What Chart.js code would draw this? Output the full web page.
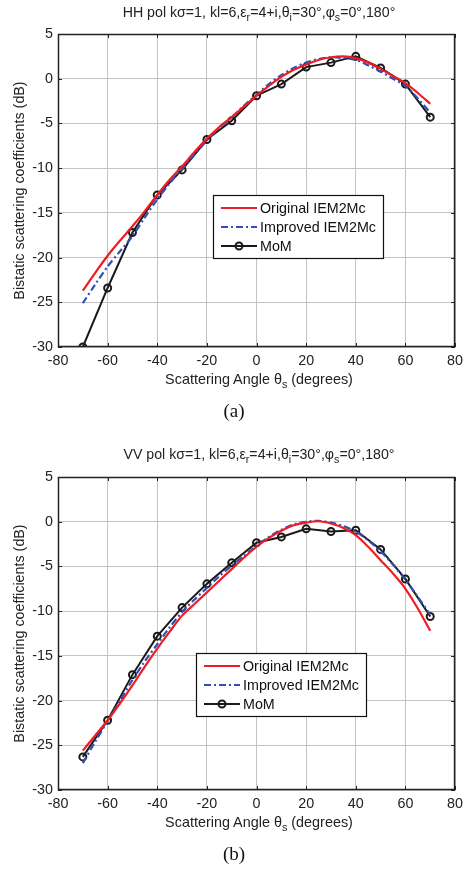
<!DOCTYPE html>
<html>
<head>
<meta charset="utf-8">
<script src="https://cdn.jsdelivr.net/npm/chart.js@4.4.1/dist/chart.umd.min.js"></script>
<style>
  body { margin: 0; background: #fff; width: 468px; height: 869px; position: relative; overflow: hidden; }
  .wrap { position: absolute; left: 0; width: 468px; height: 400px; }
  .ttl { position: absolute; left: 0; width: 468px; text-align: center; font-family: "Liberation Sans", Arial, sans-serif; color: #222; white-space: nowrap; line-height: 1; }
  .ttl sub { font-size: 75%; vertical-align: -4px; line-height: 0; }
  .cap { position: absolute; left: 0; width: 518px; text-align: center; font-family: "Liberation Serif", "Times New Roman", serif; font-size: 19px; color: #111; line-height: 1; }
</style>
</head>
<body>

<div class="wrap" id="wrapA" style="top:0px"><canvas id="chartA" width="468" height="400"></canvas></div>
<div class="wrap" id="wrapB" style="top:443px"><canvas id="chartB" width="468" height="400"></canvas></div>

<div class="ttl" style="top:5px;font-size:14.2px;left:25px">HH pol kσ=1, kl=6,ε<sub>r</sub>=4+i,θ<sub>i</sub>=30°,φ<sub>s</sub>=0°,180°</div>
<div class="ttl" style="top:372px;font-size:14.4px;left:25px">Scattering Angle θ<sub>s</sub> (degrees)</div>
<div class="cap" style="top:401px;left:-25px">(a)</div>

<div class="ttl" style="top:447px;font-size:14.2px;left:25px">VV pol kσ=1, kl=6,ε<sub>r</sub>=4+i,θ<sub>i</sub>=30°,φ<sub>s</sub>=0°,180°</div>
<div class="ttl" style="top:815px;font-size:14.4px;left:25px">Scattering Angle θ<sub>s</sub> (degrees)</div>
<div class="cap" style="top:844px;left:-25px">(b)</div>

<script>
// ========== data ==========
const curveAngles = [-70, -65, -60, -55, -50, -45, -40, -35, -30, -25, -20, -15, -10, -5, 0,
                     5, 10, 15, 20, 25, 30, 35, 40, 45, 50, 55, 60, 65, 70];
const momAngles = [-70, -60, -50, -40, -30, -20, -10, 0, 10, 20, 30, 40, 50, 60, 70];

// (a) HH pol
const hhOriginal = [-23.7, -21.7, -19.8, -18.1, -16.5, -14.8, -13.0, -11.3, -9.8, -8.2, -6.7, -5.4, -4.3, -3.1, -1.9,
                    -0.8, 0.2, 1.0, 1.6, 2.1, 2.4, 2.5, 2.3, 1.8, 1.1, 0.3, -0.5, -1.6, -2.8];
const hhImproved = [-25.1, -23.0, -21.0, -19.3, -17.6, -15.5, -13.5, -11.7, -10.1, -8.5, -6.9, -5.5, -4.3, -3.0, -1.8,
                    -0.6, 0.4, 1.2, 1.8, 2.2, 2.4, 2.3, 2.1, 1.5, 0.8, 0.0, -0.8, -2.2, -3.8];
const hhMoM = [-30.0, -23.4, -17.2, -13.0, -10.2, -6.8, -4.7, -1.9, -0.6, 1.3, 1.8, 2.5, 1.2, -0.6, -4.3];

// (b) VV pol
const vvOriginal = [-25.6, -23.9, -22.2, -20.3, -18.3, -16.2, -14.2, -12.3, -10.5, -9.2, -7.9, -6.6, -5.3, -4.0, -2.8,
                    -1.8, -1.0, -0.4, -0.1, 0.05, -0.2, -0.7, -1.5, -2.8, -4.3, -5.8, -7.5, -9.7, -12.2];
const vvImproved = [-27.0, -24.6, -22.3, -20.0, -17.7, -15.6, -13.7, -11.8, -10.1, -8.7, -7.4, -6.1, -4.9, -3.8, -2.7,
                    -1.7, -0.9, -0.3, 0.0, 0.1, -0.1, -0.5, -1.1, -2.1, -3.3, -4.8, -6.5, -8.4, -10.4];
const vvMoM = [-26.3, -22.2, -17.1, -12.8, -9.6, -6.95, -4.6, -2.35, -1.7, -0.8, -1.1, -0.95, -3.1, -6.4, -10.6];

const seriesNames = ['Original IEM2Mc', 'Improved IEM2Mc', 'MoM'];
const xTicks = [-80, -60, -40, -20, 0, 20, 40, 60, 80];
const yTicks = [-30, -25, -20, -15, -10, -5, 0, 5];

const RED = '#f01c24';
const BLUE = '#2f4fb4';
const BLACK = '#1a1a1a';
const BLUE_DASH = [7, 3, 2, 3];
const FONT = '"Liberation Sans", Arial, sans-serif';
const FS = 14.3;

function toXY(xs, ys) {
  return xs.map((x, i) => ({ x: x, y: ys[i] }));
}

// ========== box, inward ticks and inset legend ==========
const framePlugin = {
  id: 'frame',
  afterDraw(chart, args, opts) {
    const ctx = chart.ctx;
    const a = chart.chartArea;
    const xs = chart.scales.x, ys = chart.scales.y;
    ctx.save();
    ctx.strokeStyle = '#222';
    ctx.lineWidth = 1.5;
    ctx.strokeRect(a.left + 0.5, a.top + 0.5, a.right - a.left - 1, a.bottom - a.top - 1);
    ctx.lineWidth = 1;
    ctx.beginPath();
    xTicks.forEach(v => {
      const px = Math.round(xs.getPixelForValue(v)) + 0.5;
      ctx.moveTo(px, a.bottom); ctx.lineTo(px, a.bottom - 4);
      ctx.moveTo(px, a.top); ctx.lineTo(px, a.top + 4);
    });
    yTicks.forEach(v => {
      const py = Math.round(ys.getPixelForValue(v)) + 0.5;
      ctx.moveTo(a.left, py); ctx.lineTo(a.left + 4, py);
      ctx.moveTo(a.right, py); ctx.lineTo(a.right - 4, py);
    });
    ctx.stroke();

    // legend box
    const bx = a.left + opts.dx, by = a.top + opts.dy, bw = 170, bh = 63;
    ctx.fillStyle = '#fff';
    ctx.fillRect(bx, by, bw, bh);
    ctx.strokeStyle = '#111';
    ctx.lineWidth = 1.2;
    ctx.strokeRect(bx + 0.5, by + 0.5, bw, bh);
    ctx.font = FS + 'px ' + FONT;
    ctx.textBaseline = 'middle';
    const styles = [
      { c: RED, dash: [] },
      { c: BLUE, dash: BLUE_DASH },
      { c: BLACK, dash: [], marker: true }
    ];
    styles.forEach((s, i) => {
      const ry = by + 13 + i * 19;
      ctx.beginPath();
      ctx.setLineDash(s.dash);
      ctx.strokeStyle = s.c;
      ctx.lineWidth = 2.2;
      ctx.moveTo(bx + 8, ry); ctx.lineTo(bx + 44, ry);
      ctx.stroke();
      ctx.setLineDash([]);
      if (s.marker) {
        ctx.beginPath();
        ctx.lineWidth = 2;
        ctx.arc(bx + 26, ry, 3.5, 0, Math.PI * 2);
        ctx.stroke();
      }
      ctx.fillStyle = '#111';
      ctx.fillText(seriesNames[i], bx + 47, ry + 1);
    });
    ctx.restore();
  }
};

function makeChart(id, original, improved, mom, legendPos) {
  const ctx = document.getElementById(id).getContext('2d');
  return new Chart(ctx, {
    type: 'line',
    data: {
      datasets: [{
        label: seriesNames[0],
        data: toXY(curveAngles, original),
        borderColor: RED,
        borderWidth: 2.2,
        pointRadius: 0,
        tension: 0.3
      }, {
        label: seriesNames[1],
        data: toXY(curveAngles, improved),
        borderColor: BLUE,
        borderWidth: 2.2,
        borderDash: BLUE_DASH,
        pointRadius: 0,
        tension: 0.3
      }, {
        label: seriesNames[2],
        data: toXY(momAngles, mom),
        borderColor: BLACK,
        borderWidth: 2,
        pointRadius: 3.5,
        pointBorderWidth: 2,
        pointBorderColor: BLACK,
        pointBackgroundColor: 'rgba(0,0,0,0)',
        tension: 0
      }]
    },
    options: {
      responsive: false,
      animation: false,
      layout: { padding: { left: 0, top: 34, right: 8, bottom: 0 } },
      plugins: {
        legend: { display: false },
        tooltip: { enabled: false },
        frame: legendPos
      },
      scales: {
        x: {
          type: 'linear',
          min: -80, max: 80,
          afterFit: s => { s.height = 53; },
          afterBuildTicks: s => { s.ticks = xTicks.map(v => ({ value: v })); },
          grid: { color: '#c4c4c4', lineWidth: 1, drawTicks: false },
          border: { display: false },
          ticks: { color: '#222', font: { family: FONT, size: FS }, padding: 5, maxRotation: 0 }
        },
        y: {
          min: -30, max: 5,
          afterFit: s => { s.width = 58; },
          afterBuildTicks: s => { s.ticks = yTicks.map(v => ({ value: v })); },
          grid: { color: '#c4c4c4', lineWidth: 1, drawTicks: false },
          border: { display: false },
          ticks: { color: '#222', font: { family: FONT, size: FS }, padding: 5 },
          title: {
            display: true,
            text: 'Bistatic scattering coefficients (dB)',
            color: '#222',
            font: { family: FONT, size: FS },
            padding: { top: 11, bottom: 0 }
          }
        }
      }
    },
    plugins: [framePlugin]
  });
}

makeChart('chartA', hhOriginal, hhImproved, hhMoM, { dx: 155, dy: 161 });
makeChart('chartB', vvOriginal, vvImproved, vvMoM, { dx: 138, dy: 176 });
</script>
</body>
</html>
